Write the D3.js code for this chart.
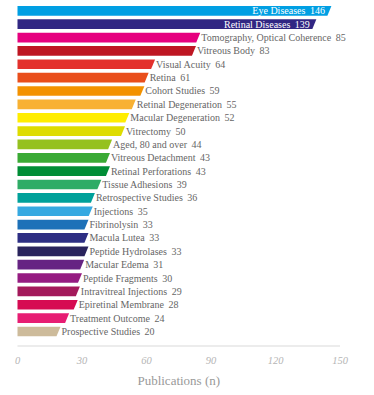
<!DOCTYPE html>
<html>
<head>
<meta charset="utf-8">
<script src="https://cdn.jsdelivr.net/npm/d3@7"></script>
<style>
  body { margin: 0; background: #fff; }
</style>
</head>
<body>
<div id="chart"></div>
<script>
// Data
var terms = ["Eye Diseases", "Retinal Diseases", "Tomography, Optical Coherence", "Vitreous Body",
  "Visual Acuity", "Retina", "Cohort Studies", "Retinal Degeneration", "Macular Degeneration",
  "Vitrectomy", "Aged, 80 and over", "Vitreous Detachment", "Retinal Perforations",
  "Tissue Adhesions", "Retrospective Studies", "Injections", "Fibrinolysin", "Macula Lutea",
  "Peptide Hydrolases", "Macular Edema", "Peptide Fragments", "Intravitreal Injections",
  "Epiretinal Membrane", "Treatment Outcome", "Prospective Studies"];
var counts = [146, 139, 85, 83, 64, 61, 59, 55, 52, 50, 44, 43, 43, 39, 36, 35, 33, 33, 33, 31, 30, 29, 28, 24, 20];
var colors = ["#009fe3", "#312783", "#e6007e", "#be1622", "#e3312d", "#e94e1b", "#f39200", "#f8b133",
  "#ffed00", "#dedc00", "#95c11f", "#3aaa35", "#008d36", "#2fac66", "#00a19a", "#36a9e1",
  "#1d71b8", "#2d2e83", "#29235c", "#662483", "#951b81", "#a3195b", "#d60b52", "#e71d73", "#cdbb9b"];
var xTicks = [0, 30, 60, 90, 120, 150];
var xTitle = "Publications (n)";

var width = 374, height = 395;
var insideCount = 2; // first two labels drawn inside the bar
var font = "'Liberation Serif', 'Times New Roman', serif";

var rows = terms.map(function(t, i) { return { term: t, n: counts[i], color: colors[i] }; });

var svg = d3.select("#chart").append("svg")
  .attr("width", width)
  .attr("height", height);

var x = d3.scaleLinear().domain([0, 150]).range([17.5, 340]);
var y = d3.scaleBand().domain(terms).range([6, 336.3]).paddingInner(0.276).paddingOuter(0);

var slant = 4;

// bars with slanted right end
svg.selectAll("path.bar")
    .data(rows)
  .enter().append("path")
    .attr("class", "bar")
    .attr("fill", function(d) { return d.color; })
    .attr("d", function(d) {
      var y0 = y(d.term), y1 = y0 + y.bandwidth();
      return "M" + x(0) + "," + y0 + "L" + x(d.n) + "," + y0 +
             "L" + (x(d.n) - slant) + "," + y1 + "L" + x(0) + "," + y1 + "Z";
    });

// labels
var label = svg.selectAll("text.label")
    .data(rows)
  .enter().append("text")
    .attr("class", "label")
    .style("font-family", font)
    .style("font-size", "10px")
    .attr("y", function(d) { return y(d.term) + y.bandwidth() / 2 + 3.5; })
    .attr("x", function(d, i) { return i < insideCount ? x(d.n) - 6.5 : x(d.n) + 1; })
    .attr("text-anchor", function(d, i) { return i < insideCount ? "end" : "start"; })
    .attr("fill", function(d, i) { return i < insideCount ? "#fff" : "#666"; });

label.append("tspan").text(function(d) { return d.term; });
label.append("tspan").attr("dx", 4.5).text(function(d) { return d.n; });

// x axis
var axisY = 346;
svg.append("line")
    .attr("x1", x(0)).attr("x2", x(150))
    .attr("y1", axisY).attr("y2", axisY)
    .attr("stroke", "#ececec")
    .attr("stroke-width", 2);

svg.selectAll("text.tick")
    .data(xTicks)
  .enter().append("text")
    .attr("class", "tick")
    .style("font-family", font)
    .style("font-size", "10.5px")
    .style("font-style", "italic")
    .attr("x", function(d) { return x(d); })
    .attr("y", 364)
    .attr("text-anchor", "middle")
    .attr("fill", "#b5b5b5")
    .text(function(d) { return d; });

svg.append("text")
    .style("font-family", font)
    .style("font-size", "13px")
    .attr("x", (x(0) + x(150)) / 2)
    .attr("y", 385)
    .attr("text-anchor", "middle")
    .attr("fill", "#999")
    .text(xTitle);
</script>
</body>
</html>
